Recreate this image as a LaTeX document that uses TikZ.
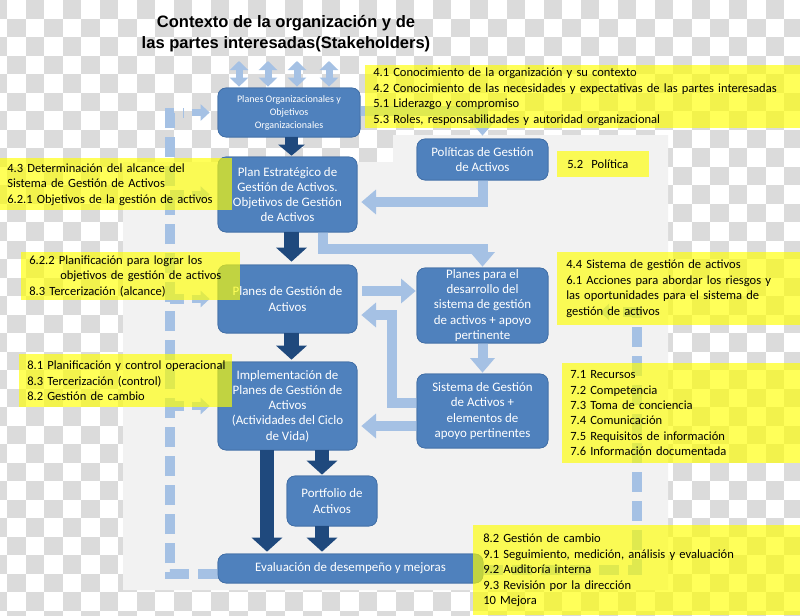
\documentclass[tikz,border=0pt]{standalone}
\usepackage{fontspec}
\setmainfont{Carlito}
\newfontfamily\titlefont{Liberation Sans}
\usetikzlibrary{arrows.meta,calc}
\definecolor{boxblue}{RGB}{79,129,189}
\definecolor{boxedge}{RGB}{66,111,166}
\definecolor{darkarrow}{RGB}{31,73,125}
\definecolor{lightarrow}{RGB}{165,193,228}
\definecolor{panel}{RGB}{242,242,242}
\definecolor{checker}{RGB}{219,219,219}
\definecolor{hl}{RGB}{255,255,0}
\begin{document}
\begin{tikzpicture}[x=0.75pt,y=-0.75pt,
  box/.style={draw=boxedge, line width=0.5pt, fill=boxblue, rounded corners=6pt, text=white,
    align=center, inner sep=0pt, font=\fontsize{9.7}{11.4}\selectfont},
  smallbox/.style={box, font=\fontsize{7.5}{9.75}\selectfont},
  note/.style={fill=hl, fill opacity=0.65, text opacity=1, text=black, align=left,
    inner ysep=0pt, anchor=north west, font=\fontsize{9.4}{11.6}\selectfont},
  darr/.style={draw=darkarrow, line width=11pt, -{Triangle[width=22.5pt,length=10.5pt]}},
  darrsmall/.style={draw=darkarrow, line width=9.75pt, -{Triangle[width=19.5pt,length=8.25pt]}},
  larr/.style={draw=lightarrow, line width=7.5pt, line join=miter, -{Triangle[width=18pt,length=11pt]}},
  dblarr/.style={draw=lightarrow, line width=5.25pt, {Triangle[width=13.5pt,length=6.75pt]}-{Triangle[width=13.5pt,length=6.75pt]}},
  dline/.style={draw=lightarrow, line width=7.5pt, line join=miter, dash pattern=on 15pt off 6.75pt},
  stub/.style={draw=lightarrow, line width=7.5pt},
  sarr/.style={draw=lightarrow, line width=5.5pt, -{Triangle[width=12pt,length=6.75pt]}}
]
\useasboundingbox (0,0) rectangle (800,615);
\clip (0,0) rectangle (800,615);
% transparency checkerboard
\fill[white] (0,0) rectangle (800,615);
\foreach \j in {0,...,33}{
  \foreach \i in {0,...,21}{
    \fill[checker] ({-11.5+(2*\i+mod(\j,2))*18.5},{\j*18.5}) rectangle ++(18.5,18.5);
  }
}
% grey panel
\fill[panel] (123,162) -- (393,162) -- (393,135) -- (668,135) -- (668,590) -- (123,590) -- cycle;

% title
\node[font=\titlefont\bfseries\fontsize{12.4}{15.75}\selectfont, align=center] (title) at (286,33.5)
  {Contexto de la organización y de\\las partes interesadas(Stakeholders)};

% boxes (positions only, drawn later on top of connectors)
\path
  node[smallbox, minimum width=106.5pt, minimum height=36.75pt] (PO) at (289,112.5) {}
  node[box, minimum width=104.25pt, minimum height=56.25pt] (PE) at (287.5,194.5) {}
  node[box, minimum width=104.25pt, minimum height=51pt] (PG) at (287.5,299) {}
  node[box, minimum width=104.25pt, minimum height=66pt] (IM) at (287.5,406) {}
  node[box, minimum width=67.5pt, minimum height=37.5pt] (PF) at (332,501) {}
  node[box, minimum width=198.75pt, minimum height=21.75pt] (EV) at (350.5,568.5) {}
  node[box, minimum width=98.25pt, minimum height=30.75pt] (POL) at (482.5,159.5) {}
  node[box, minimum width=98.25pt, minimum height=56.25pt] (PD) at (482.5,305.5) {}
  node[box, minimum width=98.25pt, minimum height=55.5pt] (SG) at (482.5,411) {};

% light-blue connectors
\coordinate (t1) at (239,61);
\coordinate (t2) at (268,61);
\coordinate (t3) at (297,61);
\coordinate (t4) at (329,61);
\foreach \t in {t1,t2,t3,t4}{ \draw[dblarr] (\t) -- ($(\t |- PO.north)+(0,-1)$); }

\draw[larr] ($(PO.east)+(0,-1.5)$) -| ($(POL.north)+(0,-3)$);
\draw[larr] (POL.south) |- ($(PE.east)+(4,7.5)$);
\draw[larr] ($(PE.south)+(35,0)$) |- ($(PD.north)+(0,-19)$) -- ($(PD.north)+(0,-1)$);
\draw[larr] ($(PG.east)+(5,-8)$) -- ($(PD.west)+(-1,-14.5)$);
\draw[larr] (PD.south) -- ($(SG.north)+(0,-1)$);
\draw[larr] ($(SG.west)+(0,15)$) -- ($(IM.east)+(4,20)$);
\draw[larr] ($(SG.west)+(0,-8)$) -- ++(-25,0) |- ($(PG.east)+(4,16)$);

% left dashed feedback line
\coordinate (LB) at (170,573.5);
\coordinate (LT) at (170,112.5);
\draw[dline] ($(EV.west)+(0,5)$) -- (LB) -- (LT) -- ++(14,0);
\foreach \b in {PE,PG,IM}{ \draw[stub] (LT |- \b.west) -- ++(14,0); }
\foreach \b in {PO,PE,PG,IM}{ \draw[sarr] ($(\b.west)+(-26,0)$) -- ($(\b.west)+(-8,0)$); }

% right dashed feedback line
\coordinate (RB) at (637,570);
\coordinate (RT) at (637,312);
\coordinate (RE) at (600,312);
\draw[dline] ($(EV.east)+(0,1.5)$) -- (RB) -- (RT) -- ($(RE)+(14,0)$);
\draw[sarr] ($(RE)+(10,0)$) -- (RE);

% boxes with text
\node[smallbox, minimum width=106.5pt, minimum height=36.75pt] at (PO) {Planes Organizacionales y\\Objetivos\\Organizacionales};
\node[box, minimum width=104.25pt, minimum height=56.25pt] at (PE) {Plan Estratégico de\\Gestión de Activos.\\Objetivos de Gestión\\de Activos};
\node[box, minimum width=104.25pt, minimum height=51pt] at (PG) {Planes de Gestión de\\Activos};
\node[box, minimum width=104.25pt, minimum height=66pt] at (IM) {Implementación de\\Planes de Gestión de\\Activos\\(Actividades del Ciclo\\de Vida)};
\node[box, minimum width=67.5pt, minimum height=37.5pt] at (PF) {Portfolio de\\Activos};
\node[box, minimum width=198.75pt, minimum height=21.75pt] at (EV) {Evaluación de desempeño y mejoras};
\node[box, minimum width=98.25pt, minimum height=30.75pt] at (POL) {Políticas de Gestión\\de Activos};
\node[box, minimum width=98.25pt, minimum height=56.25pt] at (PD) {Planes para el\\desarrollo del\\sistema de gestión\\de activos + apoyo\\pertinente};
\node[box, minimum width=98.25pt, minimum height=55.5pt] at (SG) {Sistema de Gestión\\de Activos +\\elementos de\\apoyo pertinentes};

% dark-blue arrows
\draw[darrsmall] ($(PE.north)+(4,-20)$) -- ($(PE.north)+(4,-1)$);
\draw[darr] ($(PE.south)+(4,0)$) -- ($(PG.north)+(4,-3)$);
\draw[darr] ($(PG.south)+(4,0)$) -- ($(IM.north)+(4,-2)$);
\draw[darr] ($(IM.south)+(-20.5,0)$) -- ($(EV.north)+(-83.5,-2)$);
\draw[darr] ($(PF.north)+(-10,-26)$) -- ($(PF.north)+(-10,-1)$);
\draw[darr] ($(PF.south)+(-10,0)$) -- ($(EV.north)+(-28.5,-2)$);

% yellow notes
\node[note, minimum width=326.25pt, minimum height=47.25pt, inner xsep=6pt, text width=314.25pt] (n1) at (365,65)
  {\mbox{4.1 Conocimiento de la organización y su contexto}\\
   \mbox{4.2 Conocimiento de las necesidades y expectativas de las partes interesadas}\\
   \mbox{5.1 Liderazgo y compromiso}\\
   \mbox{5.3 Roles, responsabilidades y autoridad organizacional}};
\node[note, minimum width=174pt, minimum height=39pt, inner xsep=5.25pt, text width=163.5pt] (n2) at (0,158)
  {\mbox{4.3 Determinación del alcance del}\\
   \mbox{Sistema de Gestión de Activos}\\
   \mbox{6.2.1 Objetivos de la gestión de activos}};
\node[note, minimum width=164.25pt, minimum height=36pt, inner xsep=6pt, text width=152.25pt] (n3) at (21,252)
  {\mbox{6.2.2 Planificación para lograr los}\\
   \mbox{\hspace*{23.25pt}objetivos de gestión de activos}\\
   \mbox{8.3 Tercerización (alcance)}};
\node[note, minimum width=159.75pt, minimum height=39.75pt, inner xsep=6pt, text width=147.75pt] (n4) at (19,354)
  {\mbox{8.1 Planificación y control operacional}\\
   \mbox{8.3 Tercerización (control)}\\
   \mbox{8.2 Gestión de cambio}};
\node[note, minimum width=69pt, minimum height=19.5pt, inner xsep=7.5pt, text width=54pt] (n5) at (557,151)
  {\mbox{5.2\ \ Política}};
\node[note, minimum width=182.25pt, minimum height=54.75pt, inner xsep=6.75pt, text width=168.75pt] (n6) at (557,252)
  {\mbox{4.4 Sistema de gestión de activos}\\
   \mbox{6.1 Acciones para abordar los riesgos y}\\
   \mbox{las oportunidades para el sistema de}\\
   \mbox{gestión de activos}};
\node[note, minimum width=178.5pt, minimum height=75pt, inner xsep=6pt, text width=166.5pt] (n7) at (562,363)
  {\mbox{7.1 Recursos}\\
   \mbox{7.2 Competencia}\\
   \mbox{7.3 Toma de conciencia}\\
   \mbox{7.4 Comunicación}\\
   \mbox{7.5 Requisitos de información}\\
   \mbox{7.6 Información documentada}};
\node[note, minimum width=245.25pt, minimum height=67.5pt, inner xsep=7.5pt, text width=230.25pt] (n8) at (473,525)
  {\mbox{8.2 Gestión de cambio}\\
   \mbox{9.1 Seguimiento, medición, análisis y evaluación}\\
   \mbox{9.2 Auditoría interna}\\
   \mbox{9.3 Revisión por la dirección}\\
   \mbox{10 Mejora}};
\end{tikzpicture}
\end{document}
